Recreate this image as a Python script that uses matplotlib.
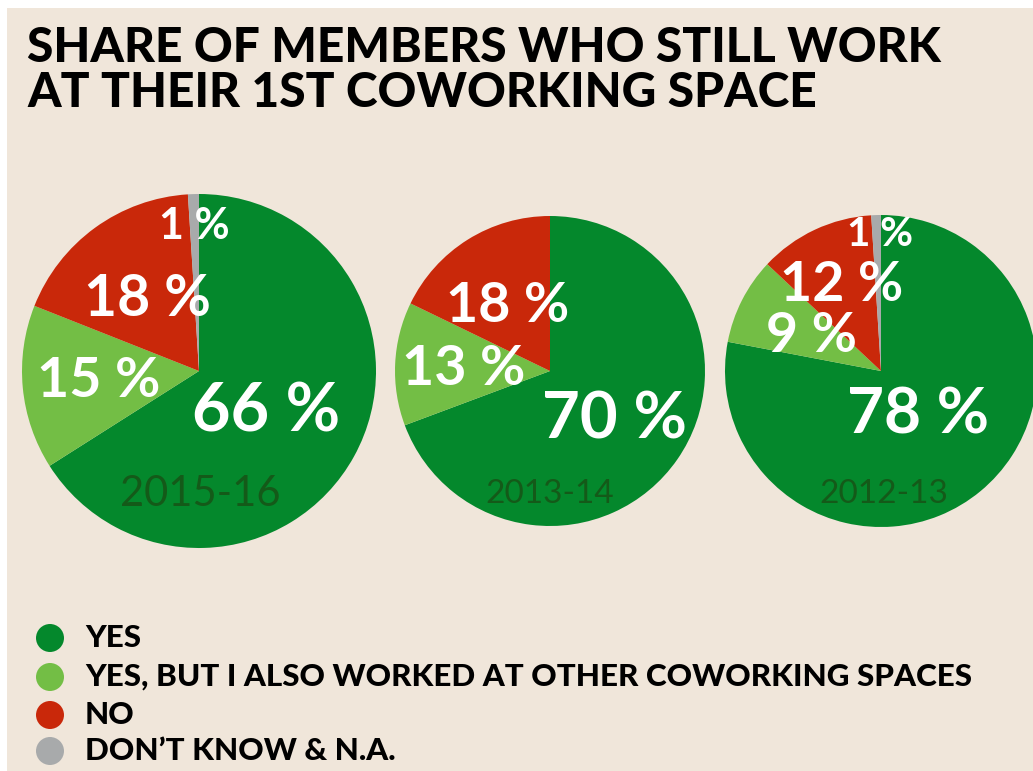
import matplotlib
matplotlib.use("Agg")
import matplotlib.pyplot as plt
from matplotlib.patches import Rectangle, Circle

# ---- data ----
years = ["2015-16", "2013-14", "2012-13"]
categories = ["YES", "YES, BUT I ALSO WORKED AT OTHER COWORKING SPACES",
              "NO", "DON\u2019T KNOW & N.A."]
yes = [66, 70, 78]
yes_other = [15, 13, 9]
no = [18, 18, 12]
dont_know = [1, 0, 1]

colors = ["#04882c", "#73be45", "#c9280a", "#a8aaab"]
bg = "#f0e6da"
W, H = 1033, 771

fig = plt.figure(figsize=(W / 100, H / 100), dpi=100)
fig.patch.set_facecolor("white")
ax = fig.add_axes([0, 0, 1, 1])
ax.set_xlim(0, W)
ax.set_ylim(0, H)
ax.axis("off")


def Y(y):
    # convert top-down pixel row to axes y
    return H - y


ax.add_patch(Rectangle((7, 0), W - 7, H - 8, facecolor=bg, edgecolor="none", zorder=0))

font = "Lato"

# title (two lines in one text block)
ax.text(27, Y(107), "SHARE OF MEMBERS WHO STILL WORK\nAT THEIR 1ST COWORKING SPACE",
        fontsize=34.5, fontweight="black", family=font, color="black",
        ha="left", va="baseline", linespacing=1.03)

# pies
centers = [(199, 371), (550, 371), (881, 371)]
radii = [177, 155, 156]
for i in range(3):
    vals = [yes[i], yes_other[i], no[i], dont_know[i]]
    cx, cy = centers[i]
    ax.pie(vals, colors=colors, startangle=90, counterclock=False,
           center=(cx, Y(cy)), radius=radii[i],
           wedgeprops=dict(linewidth=0), frame=True)
ax.set_xlim(0, W)
ax.set_ylim(0, H)
ax.set_aspect("auto")
ax.axis("off")

# value labels: (series, pie index, x, y, fontsize)
label_spots = [
    (dont_know, 0, 194, 226, 31),
    (no, 0, 147, 300, 41),
    (yes_other, 0, 99, 381, 40),
    (yes, 0, 266, 413, 48),
    (no, 1, 508, 306, 40),
    (yes_other, 1, 464, 369, 40),
    (yes, 1, 615, 420, 47),
    (dont_know, 2, 880, 235, 29),
    (no, 2, 842, 285, 40),
    (yes_other, 2, 812, 336, 40),
    (yes, 2, 918, 415, 46),
]
for series, i, x, y, fs in label_spots:
    ax.text(x, Y(y), f"{series[i]} %", fontsize=fs, fontweight="bold", family=font,
            color="white", ha="center", va="center")

# year captions
year_spots = [(200, 494, 30), (550, 494, 24), (884, 494, 24)]
for yr, (x, y, fs) in zip(years, year_spots):
    ax.text(x, Y(y), yr, fontsize=fs, family=font, color="#145a19",
            ha="center", va="center")

# legend
leg_y = [638, 677, 715, 751]
for cat, col, y in zip(categories, colors, leg_y):
    ax.add_patch(Circle((50, Y(y)), 14, facecolor=col, edgecolor="none"))
    ax.text(85, Y(y), cat, fontsize=22.6, fontweight="black", family=font,
            color="black", ha="left", va="center")

fig.savefig("out.png", dpi=100, facecolor=fig.get_facecolor())
